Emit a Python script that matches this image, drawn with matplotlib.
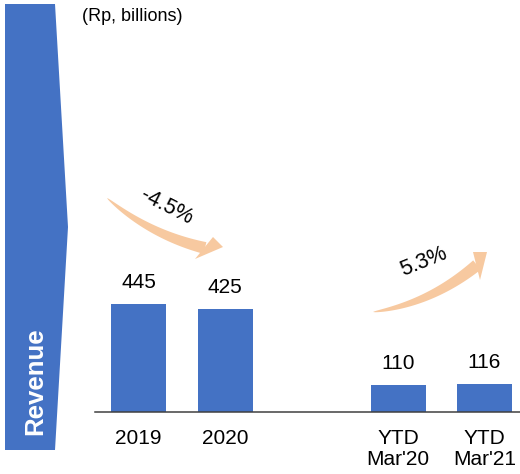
import numpy as np
import matplotlib
matplotlib.use("Agg")
import matplotlib.pyplot as plt
from matplotlib.patches import Polygon

# Revenue data (Rp, billions)
categories = ["2019", "2020", "YTD\nMar'20", "YTD\nMar'21"]
positions = [0, 1, 3, 4]
revenue = [445, 425, 110, 116]
growth_labels = ["-4.5%", "5.3%"]

BLUE = "#4472C4"
PEACH = "#F7C9A0"
FONT = ["Liberation Sans", "DejaVu Sans"]
plt.rcParams["font.family"] = FONT

W, H = 520, 474
fig = plt.figure(figsize=(W / 100, H / 100), dpi=100)

# Bar axes, laid out in pixel units
axis_y = 412           # baseline of the bars (px from top)
left_px = 95.25
unit_px = 86.5         # horizontal pixels per category slot
px_per_value = 108 / 445
ax = fig.add_axes([left_px / W, (H - axis_y) / H, (W - left_px) / W, axis_y / H])
ax.set_xlim(-0.5, -0.5 + (W - left_px) / unit_px)
ax.set_ylim(0, axis_y / px_per_value)
ax.bar(positions, revenue, width=55 / unit_px, color=BLUE, zorder=2)
for x, v in zip(positions, revenue):
    ax.annotate(f"{v}", (x, v), xytext=(0, 11.5), textcoords="offset points",
                ha="center", va="baseline", fontsize=15, color="black")
for s in ["top", "right", "left"]:
    ax.spines[s].set_visible(False)
ax.spines["bottom"].set_color("#404040")
ax.spines["bottom"].set_linewidth(1.1)
ax.set_yticks([])
ax.set_xticks(positions)
ax.set_xticklabels(categories, fontsize=15, linespacing=1.15)
ax.tick_params(axis="x", length=0, pad=12)
ax.patch.set_visible(False)

# Overlay for the banner, arrows and captions (pixel coordinates)
ov = fig.add_axes([0, 0, 1, 1], zorder=3)
ov.set_xlim(0, W)
ov.set_ylim(H, 0)
ov.axis("off")
ov.patch.set_visible(False)

banner = Polygon([(5, 4), (55, 4), (68, 227), (55, 450), (5, 450)],
                 closed=True, facecolor=BLUE, edgecolor="none")
ov.add_patch(banner)
ov.text(35, 381, "Revenue", rotation=90, ha="center", va="center",
        fontsize=18.5, fontweight="bold", color="white")
ov.text(82, 21, "(Rp, billions)", ha="left", va="baseline", fontsize=13)


def curved_arrow(p0, p1, p2, tail_w, head_a, head_b, tip):
    """Tapered quadratic-Bezier arrow ending in a triangular head."""
    p0, p1, p2 = map(np.asarray, (p0, p1, p2))
    t = np.linspace(0, 1, 60)[:, None]
    pts = (1 - t) ** 2 * p0 + 2 * (1 - t) * t * p1 + t ** 2 * p2
    d = 2 * (1 - t) * (p1 - p0) + 2 * t * (p2 - p1)
    d = d / np.linalg.norm(d, axis=1, keepdims=True)
    n = np.column_stack([-d[:, 1], d[:, 0]])
    w = tail_w / 2 * t[:, 0] ** 0.6
    upper = pts + n * w[:, None]
    lower = pts - n * w[:, None]
    body = np.vstack([upper, lower[::-1]])
    ov.add_patch(Polygon(body, closed=True, facecolor=PEACH, edgecolor="none"))
    ov.add_patch(Polygon([head_a, tip, head_b], closed=True,
                         facecolor=PEACH, edgecolor="none"))


curved_arrow((107, 198), (150, 235), (205, 248), 12,
             (213, 237), (195, 259), (223, 247))
curved_arrow((373, 312), (430, 304), (477, 265), 12,
             (473, 252), (480, 280), (487, 252))

ov.text(167, 207, growth_labels[0], rotation=-27, ha="center", va="center",
        fontsize=15.5, rotation_mode="anchor")
ov.text(424, 262, growth_labels[1], rotation=22, ha="center", va="center",
        fontsize=15.5, rotation_mode="anchor")

fig.savefig("out.png", dpi=100)
